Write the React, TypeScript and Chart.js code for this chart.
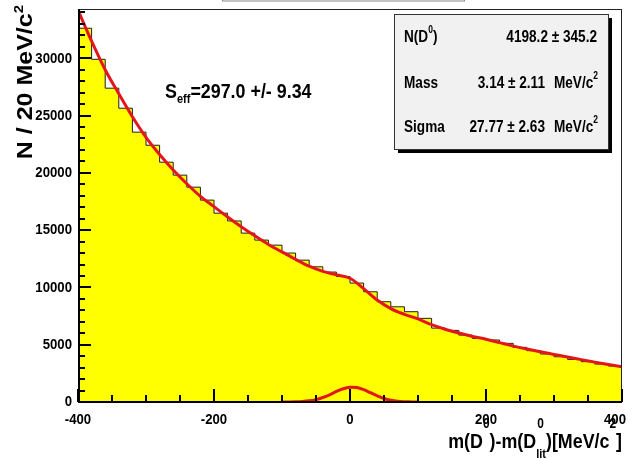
import React, { useEffect, useRef } from "react";
import { Chart, registerables } from "chart.js";

Chart.register(...registerables);

// ---- data ----
const binWidth = 20;
const binLowEdges = [
  -400, -380, -360, -340, -320, -300, -280, -260, -240, -220,
  -200, -180, -160, -140, -120, -100, -80, -60, -40, -20,
  0, 20, 40, 60, 80, 100, 120, 140, 160, 180,
  200, 220, 240, 260, 280, 300, 320, 340, 360, 380,
];
const binCounts = [
  32620, 29910, 27390, 25640, 23550, 22410, 20930, 19800, 18750, 17620,
  16480, 15800, 14740, 14130, 13690, 13000, 12380, 11800, 11340, 10950,
  10380, 9620, 8750, 8310, 7880, 7300, 6450, 6250, 5840, 5550,
  5410, 5120, 4770, 4480, 4190, 3950, 3720, 3520, 3310, 3140,
];

const fitX = [
  -400, -380, -360, -340, -320, -300, -280, -260, -240, -220,
  -200, -180, -160, -140, -120, -100, -80, -60, -40, -20,
  0, 20, 40, 60, 80, 100, 120, 140, 160, 180,
  200, 220, 240, 260, 280, 300, 320, 340, 360, 380, 400,
];
const fitY = [
  34200, 31500, 29000, 26900, 24900, 23100, 21600, 20250, 19050, 17950,
  17050, 16150, 15300, 14500, 13750, 13100, 12450, 11850, 11400, 11100,
  10800, 9900, 8900, 8150, 7650, 7250, 6750, 6350, 6020, 5720,
  5480, 5180, 4880, 4620, 4380, 4150, 3920, 3700, 3480, 3280, 3080,
];

const sigX = [-100, -90, -80, -70, -60, -50, -40, -30, -20, -10, 0, 10, 20, 30, 40, 50, 60, 70, 80, 90, 100];
const sigY = [0, 5, 15, 40, 100, 210, 390, 630, 920, 1160, 1290, 1260, 1080, 810, 535, 310, 160, 70, 28, 9, 0];

const xMin = -400;
const xMax = 400;
const yMax = 34300;
const xMajorTicks = [-400, -200, 0, 200, 400];
const xMinorStep = 50;
const yMajorTicks = [0, 5000, 10000, 15000, 20000, 25000, 30000];
const yMinorStep = 1000;

const seffLabel = ["S", "eff", "=297.0 +/- 9.34"];
const statNames = ["Mass", "Sigma"];
const statValues = ["4198.2 \u00b1 345.2", "3.14 \u00b1 2.11", "27.77 \u00b1 2.63"];
const statUnit = "MeV/c";

// ---- styling ----
const RED = "#e3171b";
const YELLOW = "#ffff00";
const FAM = '"Liberation Sans", Arial, Helvetica, sans-serif';
const SQ = 0.85;
const F = (px: number, bold = true) => `${bold ? "bold " : ""}${px}px ${FAM}`;

type Seg = { t: string; font: string; dy?: number };

function segWidth(ctx: CanvasRenderingContext2D, s: Seg) {
  ctx.font = s.font;
  return ctx.measureText(s.t).width * SQ;
}

function drawSegs(
  ctx: CanvasRenderingContext2D,
  segs: Seg[],
  x: number,
  y: number,
  align: "left" | "right" | "center" = "left",
  baseline: CanvasTextBaseline = "alphabetic"
) {
  ctx.save();
  const widths = segs.map((s) => segWidth(ctx, s));
  const total = widths.reduce((a, b) => a + b, 0);
  let cx = align === "left" ? x : align === "right" ? x - total : x - total / 2;
  ctx.textBaseline = baseline;
  ctx.textAlign = "left";
  segs.forEach((s, i) => {
    ctx.save();
    ctx.font = s.font;
    ctx.translate(cx, y + (s.dy || 0));
    ctx.scale(SQ, 1);
    ctx.fillText(s.t, 0, 0);
    ctx.restore();
    cx += widths[i];
  });
  ctx.restore();
  return total;
}

const overlay = {
  id: "rootOverlay",
  afterDraw(chart: any) {
    const ctx: CanvasRenderingContext2D = chart.ctx;
    const ca = chart.chartArea;
    const xs = chart.scales.x;
    const ys = chart.scales.y;
    ctx.save();
    ctx.fillStyle = "#000";
    ctx.strokeStyle = "#000";

    // top title box remnant
    ctx.strokeStyle = "#8a8a8a";
    ctx.lineWidth = 1;
    ctx.strokeRect(222.5, -6, 242, 7);

    // frame
    ctx.strokeStyle = "#222";
    ctx.lineWidth = 1;
    ctx.strokeRect(ca.left + 0.5, ca.top + 0.5, ca.right - ca.left - 1, ca.bottom - ca.top);
    ctx.strokeStyle = "#000";
    ctx.lineWidth = 2;
    ctx.beginPath();
    ctx.moveTo(ca.left + 1, ca.top);
    ctx.lineTo(ca.left + 1, ca.bottom);
    ctx.moveTo(ca.left, ca.bottom);
    ctx.lineTo(ca.right, ca.bottom);
    ctx.stroke();

    // y ticks
    ctx.lineWidth = 2;
    ctx.beginPath();
    for (let v = 0; v <= yMax; v += yMinorStep) {
      const py = Math.round(ys.getPixelForValue(v)) + 0.0;
      const major = yMajorTicks.includes(v);
      ctx.moveTo(ca.left, py);
      ctx.lineTo(ca.left + (major ? 13 : 7), py);
    }
    // x ticks
    for (let v = xMin; v <= xMax; v += xMinorStep) {
      const px = Math.round(xs.getPixelForValue(v));
      const major = xMajorTicks.includes(v);
      ctx.moveTo(px, ca.bottom);
      ctx.lineTo(px, ca.bottom - (major ? 13 : 7));
    }
    ctx.stroke();

    // y tick labels
    ctx.fillStyle = "#000";
    yMajorTicks.forEach((v) => {
      const py = ys.getPixelForValue(v);
      drawSegs(ctx, [{ t: String(v), font: F(15.5) }], ca.left - 6, py, "right", "middle");
    });
    // x tick labels
    xMajorTicks.forEach((v) => {
      let px = xs.getPixelForValue(v);
      const w = segWidth(ctx, { t: String(v), font: F(15.5) });
      if (px + w / 2 > chart.width - 8) px = chart.width - 8 - w / 2;
      drawSegs(ctx, [{ t: String(v), font: F(15.5) }], px, ca.bottom + 18, "center", "middle");
    });

    // x title: m(D^0)-m(D^0_lit)[MeV/c^2]
    {
      const main = F(21);
      const sup = F(14);
      const sub = F(13);
      const parts: { segs: Seg[]; stack?: Seg[] }[] = [];
      const w = (s: Seg) => segWidth(ctx, s);
      const p1: Seg = { t: "m(D", font: main };
      const s1: Seg = { t: "0", font: sup, dy: -20 };
      const p2: Seg = { t: ")-m(D", font: main };
      const s2a: Seg = { t: "0", font: sup, dy: -20 };
      const s2b: Seg = { t: "lit", font: sub, dy: 10 };
      const p3: Seg = { t: ")[MeV/c", font: main };
      const s3: Seg = { t: "2", font: sup, dy: -20 };
      const p4: Seg = { t: "]", font: main };
      const stackW = Math.max(w(s2a), w(s2b));
      const total = w(p1) + w(s1) + w(p2) + stackW + w(p3) + w(s3) + w(p4);
      const baseY = 448;
      let cx = ca.right - total;
      cx += drawSegs(ctx, [p1, s1, p2], cx, baseY);
      drawSegs(ctx, [s2a], cx + 1, baseY);
      drawSegs(ctx, [s2b], cx, baseY);
      cx += stackW;
      drawSegs(ctx, [p3, s3, p4], cx, baseY);
      void parts;
    }

    // y title: N / 20 MeV/c^2 (rotated)
    {
      ctx.save();
      ctx.translate(32, 5);
      ctx.rotate(-Math.PI / 2);
      ctx.scale(1, SQ);
      ctx.textAlign = "left";
      ctx.textBaseline = "alphabetic";
      ctx.font = F(25);
      const t1 = "N / 20 MeV/c";
      const w1 = ctx.measureText(t1).width;
      ctx.font = F(15);
      const w2 = ctx.measureText("2").width;
      const total = w1 + w2;
      ctx.font = F(25);
      ctx.fillText(t1, -total, 0);
      ctx.font = F(15);
      ctx.fillText("2", -w2, -11);
      ctx.restore();
    }

    // S_eff text
    drawSegs(
      ctx,
      [
        { t: seffLabel[0], font: F(21) },
        { t: seffLabel[1], font: F(13), dy: 5 },
        { t: seffLabel[2], font: F(21) },
      ],
      165,
      98
    );

    // stats box
    {
      const bx = 394, by = 14, bw = 214, bh = 135;
      ctx.fillStyle = "#000";
      ctx.fillRect(bx + 4, by + 4, bw, bh);
      ctx.fillStyle = "#f1f1f1";
      ctx.fillRect(bx, by, bw, bh);
      ctx.strokeStyle = "#333";
      ctx.lineWidth = 1;
      ctx.strokeRect(bx + 0.5, by + 0.5, bw, bh);
      ctx.fillStyle = "#000";
      const lf = F(16);
      const sf = F(10);
      const rows = [42, 88, 132];
      drawSegs(ctx, [
        { t: "N(D", font: lf },
        { t: "0", font: sf, dy: -9 },
        { t: ")", font: lf },
      ], 404, rows[0]);
      drawSegs(ctx, [{ t: statNames[0], font: lf }], 404, rows[1]);
      drawSegs(ctx, [{ t: statNames[1], font: lf }], 404, rows[2]);
      drawSegs(ctx, [{ t: statValues[0], font: lf }], 597, rows[0], "right");
      drawSegs(ctx, [{ t: statValues[1], font: lf }], 545, rows[1], "right");
      drawSegs(ctx, [{ t: statValues[2], font: lf }], 545, rows[2], "right");
      [rows[1], rows[2]].forEach((ry) => {
        drawSegs(ctx, [
          { t: statUnit, font: lf },
          { t: "2", font: sf, dy: -9 },
        ], 598, ry, "right");
      });
    }
    ctx.restore();
  },
};

export default function App() {
  const ref = useRef<HTMLCanvasElement | null>(null);
  useEffect(() => {
    if (!ref.current) return;
    const histPts = binLowEdges
      .map((x, i) => ({ x, y: binCounts[i] }))
      .concat([{ x: binLowEdges[binLowEdges.length - 1] + binWidth, y: binCounts[binCounts.length - 1] }]);
    const fitPts = fitX.map((x, i) => ({ x, y: fitY[i] }));
    const sigPts = sigX.map((x, i) => ({ x, y: sigY[i] }));
    const chart = new Chart(ref.current, {
      type: "line",
      data: {
        datasets: [
          {
            data: fitPts,
            borderColor: RED,
            borderWidth: 3,
            pointRadius: 0,
            cubicInterpolationMode: "monotone",
            fill: false,
            order: 1,
          } as any,
          {
            data: sigPts,
            borderColor: RED,
            borderWidth: 3,
            pointRadius: 0,
            tension: 0.4,
            fill: false,
            order: 2,
          } as any,
          {
            data: histPts,
            borderColor: "#1e1e1e",
            borderWidth: 1,
            pointRadius: 0,
            stepped: "before",
            fill: "origin",
            backgroundColor: YELLOW,
            order: 3,
          } as any,
        ],
      },
      options: {
        animation: false,
        responsive: false,
        events: [],
        layout: { padding: { left: 0, right: 12, top: 9, bottom: 0 } },
        plugins: { legend: { display: false }, tooltip: { enabled: false } },
        scales: {
          x: {
            type: "linear",
            min: xMin,
            max: xMax,
            ticks: { display: false },
            grid: { display: false },
            border: { display: false },
            afterFit: (s: any) => {
              s.height = 58;
            },
          },
          y: {
            type: "linear",
            min: 0,
            max: yMax,
            ticks: { display: false },
            grid: { display: false },
            border: { display: false },
            afterFit: (s: any) => {
              s.width = 78;
            },
          },
        },
      } as any,
      plugins: [overlay],
    });
    return () => chart.destroy();
  }, []);
  return (
    <div style={{ position: "fixed", left: 0, top: 0, width: 634, height: 460, background: "#fff" }}>
      <canvas ref={ref} width={634} height={460} style={{ display: "block" }} />
    </div>
  );
}
